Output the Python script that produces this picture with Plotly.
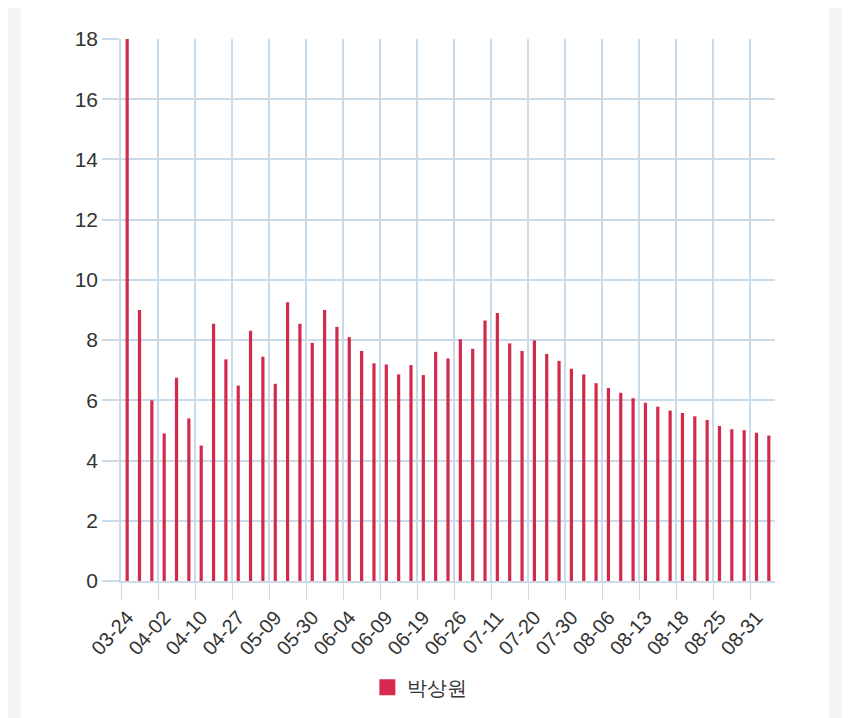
import plotly.graph_objects as go

# one bar per day shown; only every third date is labelled on the axis
tick_labels = ['03-24', '04-02', '04-10', '04-27', '05-09', '05-30', '06-04', '06-09',
               '06-19', '06-26', '07-11', '07-20', '07-30', '08-06', '08-13', '08-18',
               '08-25', '08-31']
values = [18.0, 9.0, 6.0, 4.9, 6.75, 5.4, 4.5, 8.54, 7.36, 6.49,
          8.31, 7.45, 6.55, 9.26, 8.54, 7.91, 9.0, 8.44, 8.1, 7.64,
          7.23, 7.19, 6.86, 7.17, 6.84, 7.61, 7.39, 8.03, 7.71, 8.65,
          8.9, 7.89, 7.64, 7.99, 7.54, 7.31, 7.05, 6.86, 6.57, 6.41,
          6.25, 6.07, 5.92, 5.79, 5.66, 5.58, 5.47, 5.35, 5.15, 5.04,
          5.01, 4.92, 4.83]
series_name = '박상원'

idx = list(range(len(values)))
tickvals = idx[::3][:len(tick_labels)]

bar_color = '#d12b4c'
grid_color = '#c9dae9'
font = 'Liberation Sans, Arial, sans-serif'

fig = go.Figure()
fig.add_trace(go.Bar(x=idx, y=values, name=series_name, width=0.26,
                     marker=dict(color=bar_color, line=dict(width=0)),
                     showlegend=False))
# bigger legend swatch than the default bar one
fig.add_trace(go.Scatter(x=[None], y=[None], mode='markers', name=series_name,
                         marker=dict(symbol='square', size=22, color='#d9294f')))

# page body adds 8px margin, so the figure is a bit smaller and shifted
fig.update_layout(
    width=842, height=710,
    margin=dict(l=113, r=75, t=31, b=136),
    paper_bgcolor='white', plot_bgcolor='white',
    font=dict(family=font, color='#333333', size=21),
    legend=dict(orientation='h', x=0.457, xanchor='center', y=-0.194, yanchor='middle',
                font=dict(size=20, color='#333'), itemwidth=30),
    shapes=[
        dict(type='rect', xref='paper', yref='paper', x0=-0.2, x1=-0.153, y0=-0.3, y1=1.1,
             fillcolor='#f4f5f7', line=dict(width=0), layer='below'),
        dict(type='rect', xref='paper', yref='paper', x0=1.0826, x1=1.2, y0=-0.3, y1=1.1,
             fillcolor='#f4f5f7', line=dict(width=0), layer='below'),
    ],
)

fig.update_xaxes(
    range=[-0.5, len(values) - 0.5],
    tickmode='array', tickvals=tickvals, ticktext=tick_labels,
    tickangle=-48, tickfont=dict(size=20),
    ticks='outside', ticklen=15, tickcolor='rgba(0,0,0,0)',
    showgrid=False, zeroline=False,
    showline=True, linecolor=grid_color, linewidth=1.5,
    minor=dict(tickmode='linear', tick0=-0.5, dtick=3, ticks='outside', ticklen=17,
               tickcolor=grid_color, showgrid=True, gridcolor=grid_color, gridwidth=1.5),
)
fig.update_yaxes(
    range=[0, 18], dtick=2,
    ticks='outside', ticklen=17, tickcolor=grid_color, tickwidth=1.5,
    showgrid=True, gridcolor=grid_color, gridwidth=1.5,
    zeroline=False, showline=True, linecolor=grid_color, linewidth=1.5,
)

fig.write_html('out.html')
